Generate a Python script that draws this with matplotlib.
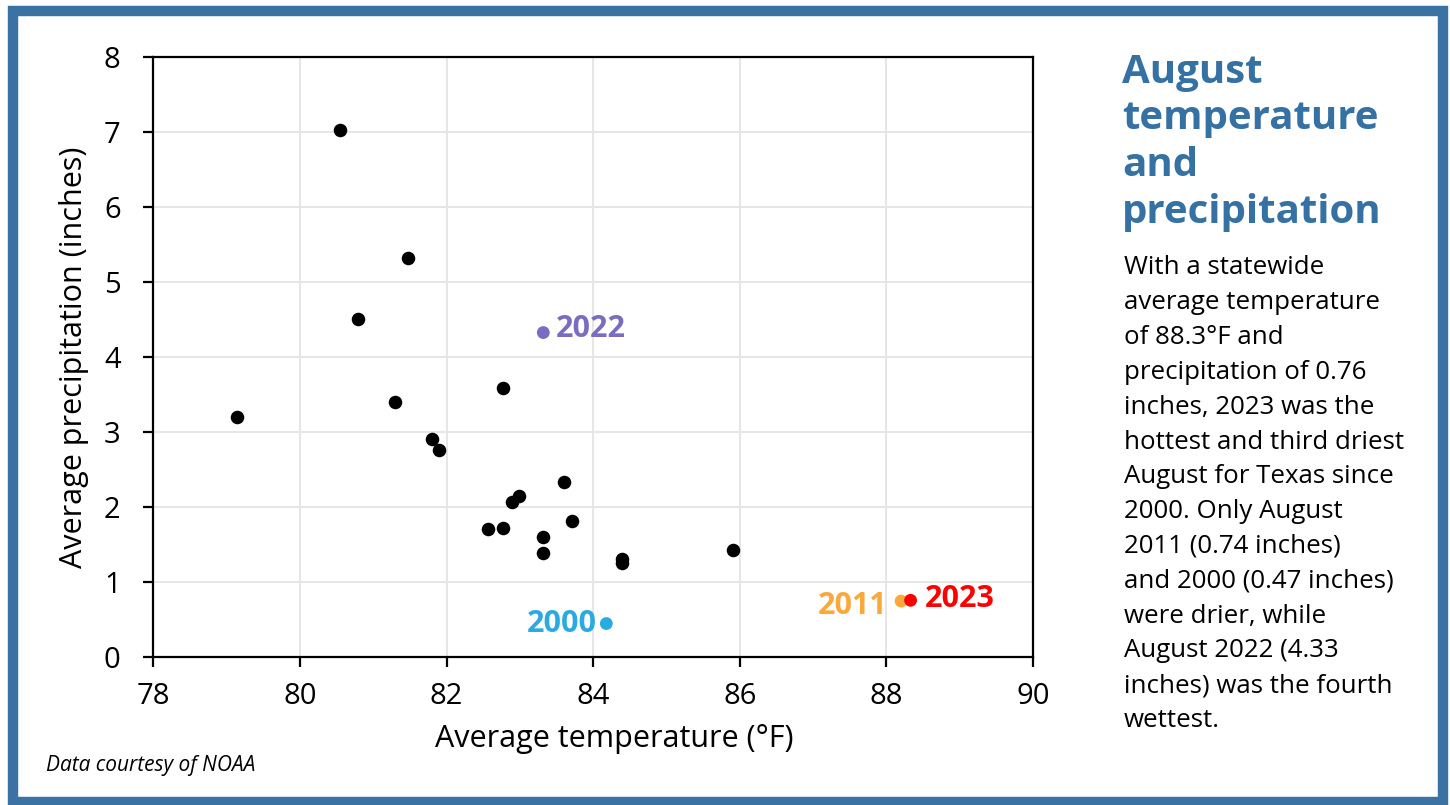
import matplotlib
matplotlib.use("Agg")
import matplotlib.pyplot as plt
from matplotlib.patches import Rectangle

# ---- data ----
temps = [79.14, 80.54, 80.79, 81.48, 81.30, 81.80, 81.90, 82.77, 82.57, 82.77,
         82.89, 82.99, 83.60, 83.32, 83.32, 83.71, 84.40, 84.40, 85.91]
precip = [3.20, 7.03, 4.51, 5.33, 3.41, 2.91, 2.77, 3.59, 1.71, 1.73,
          2.07, 2.15, 2.34, 1.60, 1.39, 1.82, 1.31, 1.26, 1.43]

hl_years = ["2022", "2000", "2011", "2023"]
hl_temps = [83.32, 84.18, 88.20, 88.33]
hl_precip = [4.33, 0.45, 0.75, 0.76]
hl_colors = ["#7B6CC2", "#29ABE2", "#F9A93B", "#FF0000"]

x_ticks = [78, 80, 82, 84, 86, 88, 90]
y_ticks = [0, 1, 2, 3, 4, 5, 6, 7, 8]

title_lines = ["August", "temperature", "and", "precipitation"]
body_lines = ["With a statewide", "average temperature", "of 88.3°F and",
              "precipitation of 0.76", "inches, 2023 was the",
              "hottest and third driest", "August for Texas since",
              "2000. Only August", "2011 (0.74 inches)",
              "and 2000 (0.47 inches)", "were drier, while",
              "August 2022 (4.33", "inches) was the fourth", "wettest."]

FONT = ["Open Sans", "DejaVu Sans"]
plt.rcParams["font.family"] = FONT

W, H = 1450, 805
fig = plt.figure(figsize=(W / 100, H / 100), dpi=100)
fig.patch.set_facecolor("white")

def fx(px):
    return px / W

def fy(py):
    return 1 - py / H

# border
border = Rectangle((fx(13), fy(802)), fx(1443) - fx(13), fy(11) - fy(802),
                   transform=fig.transFigure, fill=False,
                   edgecolor="#3A72A4", linewidth=7.5, zorder=0)
fig.patches.append(border)

ax = fig.add_axes([fx(153.3), fy(657.3), fx(1033) - fx(153.3), fy(57.3) - fy(657.3)])
ax.set_xlim(78, 90)
ax.set_ylim(0, 8)
ax.set_xticks(x_ticks)
ax.set_yticks(y_ticks)
ax.grid(True, color="#E6E6E6", linewidth=1.4, zorder=0)
ax.set_axisbelow(True)
for s in ax.spines.values():
    s.set_linewidth(1.6)
    s.set_color("black")
ax.tick_params(axis="both", direction="out", length=7.5, width=1.6,
               labelsize=21, colors="black")
ax.tick_params(axis="y", pad=16)
ax.tick_params(axis="x", pad=10)

ax.scatter(temps, precip, s=95, color="black", zorder=3, linewidths=0)
ax.scatter(hl_temps, hl_precip, s=85, color=hl_colors, zorder=4, linewidths=0)

offsets = [(13, 4, "left"), (-10, 0, "right"), (-14, -5, "right"), (14, 1, "left")]
for yr, t, p, c, (dx, dy, ha) in zip(hl_years, hl_temps, hl_precip, hl_colors, offsets):
    ax.annotate(yr, (t, p), xytext=(dx, dy), textcoords="offset pixels",
                ha=ha, va="center", color=c, fontsize=22, fontweight="bold")

ax.set_xlabel("Average temperature (°F)", fontsize=22, labelpad=10)
ax.xaxis.label.set_x(0.5 + 21 / 880)
ax.set_ylabel("Average precipitation (inches)", fontsize=22, labelpad=11)

# right text panel
for i, line in enumerate(title_lines):
    fig.text(fx(1122), fy(72 + i * 47), line, fontsize=29, fontweight="bold",
             color="#3571A3", ha="left", va="center")
for i, line in enumerate(body_lines):
    fig.text(fx(1124), fy(268 + i * 34.8), line, fontsize=18.6,
             color="black", ha="left", va="center")

fig.text(fx(46), fy(765), "Data courtesy of NOAA", fontsize=15,
         style="italic", color="black", ha="left", va="center")

fig.savefig("out.png", dpi=100)
